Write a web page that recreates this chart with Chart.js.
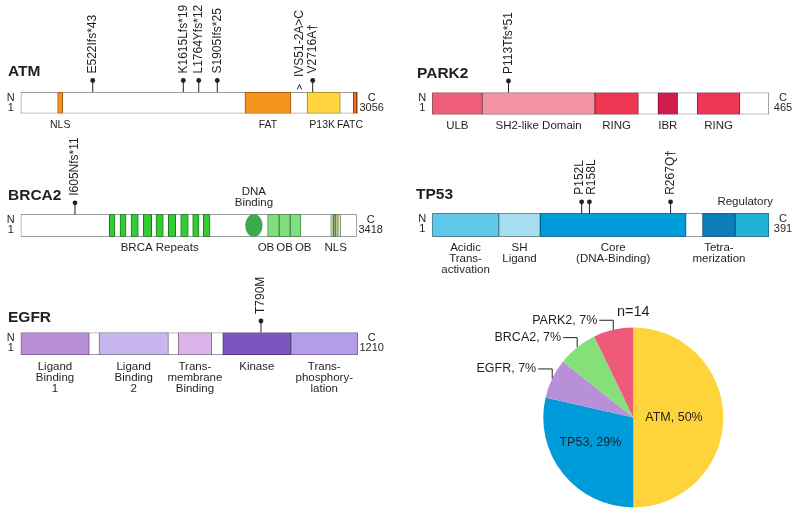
<!DOCTYPE html>
<html>
<head>
<meta charset="utf-8">
<script src="https://cdn.jsdelivr.net/npm/chart.js@4.4.0/dist/chart.umd.min.js"></script>
<style>
html,body{margin:0;padding:0;background:#fff;width:800px;height:515px;overflow:hidden;}
canvas{position:absolute;}
</style>
</head>
<body>
<canvas id="atm" width="400" height="135" style="left:0;top:0"></canvas>
<canvas id="park2" width="400" height="135" style="left:400px;top:0"></canvas>
<canvas id="brca2" width="400" height="140" style="left:0;top:135px"></canvas>
<canvas id="tp53" width="400" height="155" style="left:400px;top:135px"></canvas>
<canvas id="egfr" width="400" height="240" style="left:0;top:275px"></canvas>
<canvas id="pie" width="400" height="225" style="left:400px;top:290px"></canvas>
<script>
// ================= DATA =================
// ATM (1..3056)
const atmLength = 3056;
const atmDomains = ['NLS', 'FAT', 'P13K', 'FATC'];
const atmStart = [336, 2034, 2597, 3016];
const atmEnd = [382, 2451, 2898, 3047];
const atmMutations = ['E522Ifs*43', 'K1615Lfs*19', 'L1764Yfs*12', 'S1905Ifs*25', 'IVS51-2A>C', 'V2716A\u2020'];
const atmMutPos = [654, 1475, 1615, 1783, 2528, 2648];

// PARK2 (1..465)
const park2Length = 465;
const park2Domains = ['ULB', 'SH2-like Domain', 'RING', 'IBR', 'RING'];
const park2Start = [1, 70, 225, 312, 366];
const park2End = [70, 225, 285, 339, 425];
const park2Mutations = ['P113Tfs*51'];
const park2MutPos = [106];

// BRCA2 (1..3418)
const brca2Length = 3418;
const brca2Domains = ['BRC1', 'BRC2', 'BRC3', 'BRC4', 'BRC5', 'BRC6', 'BRC7', 'BRC8', 'BRC9',
  'DNA Binding', 'OB1', 'OB2', 'OB3', 'NLS-a', 'NLS-b', 'NLS-c', 'NLS-d'];
const brca2Start = [902, 1011, 1123, 1248, 1377, 1502, 1628, 1750, 1858, 2284, 2512, 2630, 2742, 3154, 3181, 3208, 3226];
const brca2End = [960, 1072, 1197, 1333, 1451, 1577, 1705, 1814, 1926, 2461, 2630, 2742, 2851, 3181, 3208, 3226, 3256];
const brca2Labels = ['BRCA Repeats', 'DNA\nBinding', 'OB', 'OB', 'OB', 'NLS'];
const brca2LabelFrom = [0, 9, 10, 11, 12, 13];
const brca2LabelTo = [8, 9, 10, 11, 12, 16];
const brca2Mutations = ['I605Nfs*11'];
const brca2MutPos = [553];

// TP53 (1..391)
const tp53Length = 391;
const tp53Domains = ['Acidic\nTrans-\nactivation', 'SH\nLigand', 'Core\n(DNA-Binding)', 'Tetra-\nmerization', 'Regulatory'];
const tp53Start = [1, 78, 126, 314, 352];
const tp53End = [78, 126, 295, 352, 391];
const tp53Mutations = ['P152L', 'R158L', 'R267Q\u2020'];
const tp53MutPos = [174, 183, 277];

// EGFR (1..1210)
const egfrLength = 1210;
const egfrDomains = ['Ligand\nBinding\n1', 'Ligand\nBinding\n2', 'Trans-\nmembrane\nBinding', 'Kinase', 'Trans-\nphosphory-\nlation'];
const egfrStart = [1, 282, 566, 726, 970];
const egfrEnd = [247, 531, 686, 970, 1210];
const egfrMutations = ['T790M'];
const egfrMutPos = [863];

// Pie: patients per gene
const pieLabels = ['ATM', 'TP53', 'EGFR', 'BRCA2', 'PARK2'];
const pieCounts = [7, 4, 1, 1, 1];

// ================= STYLE =================
const FONT = '"Liberation Sans", Arial, Helvetica, sans-serif';
const INK = '#231F20';
const pieColors = ['#FFD43B', '#009CDA', '#B890DA', '#86E07A', '#EE5A78'];

function darken(hex, f) {
  const n = parseInt(hex.slice(1), 16);
  const r = (n >> 16) & 255, g = (n >> 8) & 255, b = n & 255;
  return 'rgb(' + Math.round(r * f) + ',' + Math.round(g * f) + ',' + Math.round(b * f) + ')';
}

function txt(ctx, s, x, y, size, o) {
  o = o || {};
  ctx.font = (o.bold ? 'bold ' : '') + size + 'px ' + FONT;
  ctx.fillStyle = INK;
  ctx.textAlign = o.align || 'center';
  ctx.textBaseline = o.base || 'alphabetic';
  ctx.fillText(s, x, y);
}

// push overlapping labels apart, keeping each cluster centred on its wanted positions
function spread(items, gap) {
  const sorted = items.slice().sort((a, b) => a.want - b.want);
  const groups = [];
  function layout(g) {
    const total = g.items.reduce((s, it) => s + it.w, 0) + gap * (g.items.length - 1);
    const mean = g.items.reduce((s, it) => s + it.want, 0) / g.items.length;
    let x = mean - total / 2;
    g.items.forEach(it => { it.pos = x + it.w / 2; x += it.w + gap; });
  }
  sorted.forEach(it => {
    const g = { items: [it] };
    layout(g);
    groups.push(g);
    while (groups.length > 1) {
      const a = groups[groups.length - 2], b = groups[groups.length - 1];
      const al = a.items[a.items.length - 1], bf = b.items[0];
      if (al.pos + al.w / 2 + gap > bf.pos - bf.w / 2 + 0.01) {
        a.items = a.items.concat(b.items);
        groups.pop();
        layout(a);
      } else break;
    }
  });
}

function makeProtein(p) {
  const cv = document.getElementById(p.id);
  const W = cv.width, H = cv.height;
  const ell = p.ellipse || [];
  const above = p.above || [];
  const labels = p.labels || p.domains;
  const from = p.labelFrom || p.domains.map((d, i) => i);
  const to = p.labelTo || p.domains.map((d, i) => i);

  const segData = p.start.map((s, i) => ({ x: [s, p.end[i]], y: 'p' }));
  const fills = p.colors.map((c, i) => ell.includes(i) ? 'rgba(0,0,0,0)' : c);
  const borders = p.colors.map((c, i) => ell.includes(i) ? 'rgba(0,0,0,0)' : darken(c, 0.6));

  const plugin = {
    id: 'protein_' + p.id,
    afterDraw(chart) {
      const ctx = chart.ctx, xs = chart.scales.x, a = chart.chartArea;
      const top = a.top, bot = a.bottom, L = a.left, R = a.right;
      // ellipse-shaped domains
      const meta = chart.getDatasetMeta(1);
      ell.forEach(i => {
        const el = meta.data[i];
        const pr = el.getProps(['x', 'y', 'base', 'height'], true);
        ctx.beginPath();
        ctx.ellipse((pr.x + pr.base) / 2, pr.y, Math.abs(pr.x - pr.base) / 2, pr.height / 2, 0, 0, Math.PI * 2);
        ctx.fillStyle = p.colors[i];
        ctx.fill();
      });
      // title
      txt(ctx, p.title, p.titleX, top - p.titleGap, 15.5, { bold: true, align: 'left' });
      // termini
      txt(ctx, 'N', L - 10, top + 8.5, 11);
      txt(ctx, '1', L - 10, top + 18.5, 11);
      txt(ctx, 'C', R + 14, top + 8.5, 11);
      txt(ctx, String(p.length), R + 14, top + 18.5, 11);
      // domain labels
      ctx.font = p.labelSize + 'px ' + FONT;
      const below = [], up = [];
      labels.forEach((t, k) => {
        const x0 = xs.getPixelForValue(p.start[from[k]]);
        const x1 = xs.getPixelForValue(p.end[to[k]]);
        const lines = t.split('\n');
        ctx.font = p.labelSize + 'px ' + FONT;
        const w = Math.max.apply(null, lines.map(l => ctx.measureText(l).width));
        let want = (x0 + x1) / 2;
        want = Math.min(Math.max(want, L - 4 + w / 2), R + 4 - w / 2);
        (above.includes(t) ? up : below).push({ lines, w, want });
      });
      spread(below, 2);
      spread(up, 2);
      below.forEach(it => it.lines.forEach((l, j) => txt(ctx, l, it.pos, bot + 14.5 + j * 11, p.labelSize)));
      up.forEach(it => {
        const n = it.lines.length;
        it.lines.forEach((l, j) => txt(ctx, l, it.pos, top - 8.5 - (n - 1 - j) * 10.5, p.labelSize));
      });
      // mutations (lollipops)
      const items = p.mutPos.map((pos, i) => {
        const stem = xs.getPixelForValue(pos);
        return { i, stem, want: stem, w: 12.5 };
      });
      spread(items, 0);
      items.forEach(it => {
        const name = p.mutations[it.i];
        const splice = /^IVS/.test(name);
        ctx.strokeStyle = INK;
        ctx.lineWidth = 1;
        let labelBottom;
        if (splice) {
          ctx.beginPath();
          ctx.moveTo(it.stem - 2.2, top - 2.5);
          ctx.lineTo(it.stem, top - 7.5);
          ctx.lineTo(it.stem + 2.2, top - 2.5);
          ctx.stroke();
          labelBottom = top - 15;
        } else {
          const dotY = top - 11.5;
          ctx.beginPath();
          ctx.moveTo(it.stem, top);
          ctx.lineTo(it.stem, dotY);
          ctx.stroke();
          ctx.beginPath();
          ctx.arc(it.stem, dotY, 2.4, 0, Math.PI * 2);
          ctx.fillStyle = INK;
          ctx.fill();
          labelBottom = dotY - 7;
        }
        ctx.save();
        ctx.translate(it.pos, labelBottom);
        ctx.rotate(-Math.PI / 2);
        txt(ctx, name, 0, 0, 12, { align: 'left', base: 'middle' });
        ctx.restore();
      });
    }
  };

  new Chart(cv, {
    type: 'bar',
    data: {
      labels: ['p'],
      datasets: [
        { data: [{ x: [1, p.length], y: 'p' }], backgroundColor: '#ffffff', borderColor: '#77787b',
          borderWidth: 1, borderSkipped: false, grouped: false, barPercentage: 1, categoryPercentage: 1, order: 2 },
        { data: segData, backgroundColor: fills, borderColor: borders,
          borderWidth: 1, borderSkipped: false, grouped: false, barPercentage: 1, categoryPercentage: 1, order: 1 }
      ]
    },
    options: {
      indexAxis: 'y',
      responsive: false,
      animation: false,
      events: [],
      devicePixelRatio: 1,
      layout: { padding: { left: p.bar[0], right: W - p.bar[1], top: p.bar[2], bottom: H - p.bar[3] } },
      scales: {
        x: { type: 'linear', min: 1, max: p.length, display: false },
        y: { display: false }
      },
      plugins: { legend: { display: false }, tooltip: { enabled: false } }
    },
    plugins: [plugin]
  });
}

makeProtein({
  id: 'atm', title: 'ATM', titleX: 8, titleGap: 16, labelSize: 10.5,
  length: atmLength, domains: atmDomains, start: atmStart, end: atmEnd,
  mutations: atmMutations, mutPos: atmMutPos,
  colors: ['#F7941E', '#F7941E', '#FFD640', '#F26F21'],
  bar: [20.7, 357.7, 92, 113.5]
});
makeProtein({
  id: 'park2', title: 'PARK2', titleX: 17, titleGap: 15, labelSize: 11.5,
  length: park2Length, domains: park2Domains, start: park2Start, end: park2End,
  mutations: park2Mutations, mutPos: park2MutPos,
  colors: ['#EE5E79', '#F592A4', '#EE3653', '#D21B4B', '#EE3653'],
  bar: [32.3, 369, 92.5, 114.5]
});
makeProtein({
  id: 'brca2', title: 'BRCA2', titleX: 8, titleGap: 14.5, labelSize: 11.5,
  length: brca2Length, domains: brca2Domains, start: brca2Start, end: brca2End,
  labels: brca2Labels, labelFrom: brca2LabelFrom, labelTo: brca2LabelTo,
  above: ['DNA\nBinding'], ellipse: [9],
  mutations: brca2Mutations, mutPos: brca2MutPos,
  colors: ['#33CC33', '#33CC33', '#33CC33', '#33CC33', '#33CC33', '#33CC33', '#33CC33', '#33CC33', '#33CC33',
    '#3BAA4B', '#80E080', '#80E080', '#80E080', '#C5EBA0', '#8FA985', '#C5EBA0', '#DDF2B0'],
  bar: [20.7, 356.7, 79.3, 101.7]
});
makeProtein({
  id: 'tp53', title: 'TP53', titleX: 16, titleGap: 14.5, labelSize: 11.5,
  length: tp53Length, domains: tp53Domains, start: tp53Start, end: tp53End,
  above: ['Regulatory'],
  mutations: tp53Mutations, mutPos: tp53MutPos,
  colors: ['#5EC8E9', '#A6DDEF', '#009CD9', '#0B7DBB', '#23B1D6'],
  bar: [32.3, 369, 78.3, 101.7]
});
makeProtein({
  id: 'egfr', title: 'EGFR', titleX: 8, titleGap: 11, labelSize: 11.5,
  length: egfrLength, domains: egfrDomains, start: egfrStart, end: egfrEnd,
  mutations: egfrMutations, mutPos: egfrMutPos,
  colors: ['#B98ED9', '#C8B7EE', '#DBB5EA', '#7B56BF', '#B49DE6'],
  bar: [20.7, 357.7, 57.5, 80]
});

// ================= PIE =================
const pieLabelPlugin = {
  id: 'pieLabels',
  afterDraw(chart) {
    const ctx = chart.ctx;
    const meta = chart.getDatasetMeta(0);
    const total = pieCounts.reduce((s, v) => s + v, 0);
    let cx = 0, cy = 0, R = 0;
    meta.data.forEach((arc, i) => {
      const pr = arc.getProps(['x', 'y', 'startAngle', 'endAngle', 'outerRadius'], true);
      cx = pr.x; cy = pr.y; R = pr.outerRadius;
      const frac = pieCounts[i] / total;
      const text = pieLabels[i] + ', ' + Math.round(frac * 100) + '%';
      const m = (pr.startAngle + pr.endAngle) / 2;
      ctx.font = '12.5px ' + FONT;
      if (frac >= 0.1) {
        let px = cx + 0.45 * R * Math.cos(m);
        const py = cy + 0.45 * R * Math.sin(m);
        const w = ctx.measureText(text).width;
        if (Math.cos(m) < 0) px = Math.min(px, cx - 12 - w / 2);
        else px = Math.max(px, cx + 12 + w / 2);
        txt(ctx, text, px, py, 12.5, { base: 'middle' });
      } else {
        const ax = cx + R * Math.cos(m), ay = cy + R * Math.sin(m);
        const ly = ay - 9.5;
        ctx.strokeStyle = INK;
        ctx.lineWidth = 1;
        ctx.beginPath();
        ctx.moveTo(ax - 14, ly);
        ctx.lineTo(ax, ly);
        ctx.lineTo(ax, ay);
        ctx.stroke();
        txt(ctx, text, ax - 16, ly, 12.5, { align: 'right', base: 'middle' });
      }
    });
    txt(ctx, 'n=' + total, cx, cy - R - 11.5, 14.5);
  }
};

new Chart(document.getElementById('pie'), {
  type: 'pie',
  data: {
    labels: pieLabels,
    datasets: [{ data: pieCounts, backgroundColor: pieColors, borderWidth: 0 }]
  },
  options: {
    responsive: false,
    animation: false,
    events: [],
    devicePixelRatio: 1,
    layout: { padding: { left: 143.3, right: 76.7, top: 37.5, bottom: 7.5 } },
    plugins: { legend: { display: false }, tooltip: { enabled: false } }
  },
  plugins: [pieLabelPlugin]
});
</script>
</body>
</html>
